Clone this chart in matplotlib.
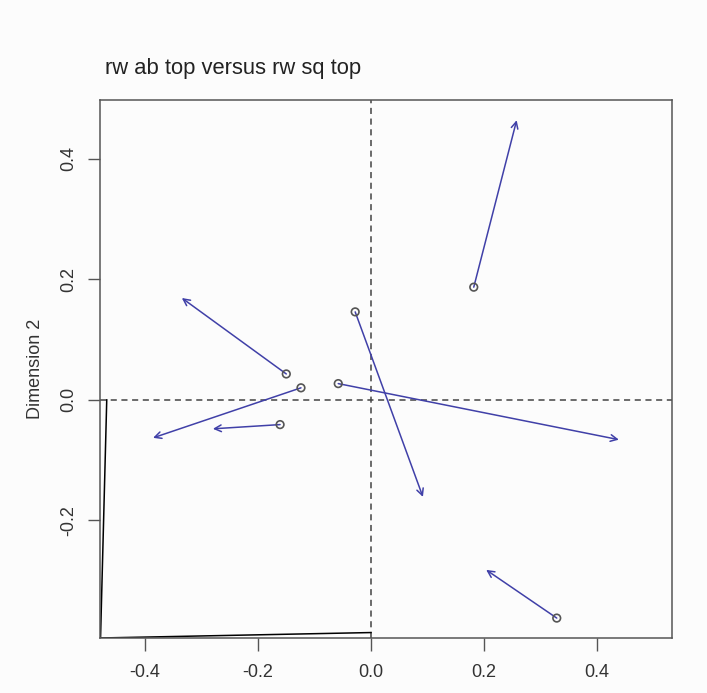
import matplotlib
matplotlib.use("Agg")
import matplotlib.pyplot as plt

plt.rcParams["font.family"] = ["Liberation Sans", "DejaVu Sans"]

# target (rw ab top) coordinates -> rotated (rw sq top) coordinates
start_x = [0.182, -0.028, -0.150, -0.124, -0.161, -0.058, 0.329]
start_y = [0.187, 0.146, 0.043, 0.020, -0.041, 0.027, -0.362]
end_x = [0.258, 0.092, -0.335, -0.386, -0.280, 0.439, 0.204]
end_y = [0.464, -0.161, 0.169, -0.063, -0.048, -0.066, -0.282]

# rotation axes drawn in the corner
rot_x = [-0.468, -0.479, 0.0]
rot_y = [0.0, -0.395, -0.386]

x_ticks = [-0.4, -0.2, 0.0, 0.2, 0.4]
y_ticks = [-0.2, 0.0, 0.2, 0.4]

fig = plt.figure(figsize=(7.07, 6.93), dpi=100, facecolor="#fcfcfc")
ax = fig.add_axes([0.1414, 0.0794, 0.809, 0.7763], facecolor="#fcfcfc")
ax.set_xlim(-0.480, 0.533)
ax.set_ylim(-0.395, 0.4975)

ax.axhline(0, color="#444444", ls=(0, (4, 3)), lw=1.1)
ax.axvline(0, color="#444444", ls=(0, (4, 3)), lw=1.1)

ax.plot(rot_x, rot_y, color="black", lw=1.1)

for x0, y0, x1, y1 in zip(start_x, start_y, end_x, end_y):
    ax.annotate("", xy=(x1, y1), xytext=(x0, y0),
                arrowprops=dict(arrowstyle="->", color="#4040a8", lw=1.1,
                                shrinkA=0, shrinkB=0, mutation_scale=12))
ax.scatter(start_x, start_y, s=30, facecolors="none", edgecolors="#555555",
           linewidths=1.2, zorder=3)

ax.set_xticks(x_ticks)
ax.set_xticklabels([f"{v:.1f}" for v in x_ticks])
ax.set_yticks(y_ticks)
ax.set_yticklabels([f"{v:.1f}" for v in y_ticks], rotation=90, va="center")
ax.tick_params(direction="out", length=9, width=1, colors="#555555",
               labelcolor="#333333", labelsize=13)
ax.tick_params(axis="x", pad=10)
ax.tick_params(axis="y", pad=7)
ax.set_ylabel("Dimension 2", fontsize=13, color="#333333", labelpad=12)
for s in ax.spines.values():
    s.set_color("#555555")
    s.set_linewidth(1.1)

fig.text(0.149, 0.893, "rw ab top versus rw sq top", fontsize=15.8,
         color="#222222", ha="left", va="baseline")

fig.savefig("out.png", dpi=100, facecolor=fig.get_facecolor())
